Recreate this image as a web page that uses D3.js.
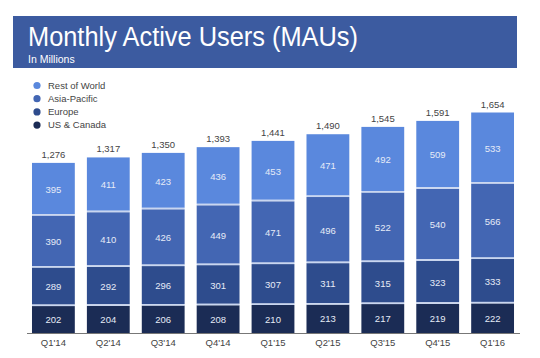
<!DOCTYPE html>
<html><head><meta charset="utf-8">
<script src="https://cdn.jsdelivr.net/npm/d3@7"></script>
<style>body{margin:0;background:#fff;} svg{display:block;font-family:"Liberation Sans",Arial,sans-serif;}</style>
</head><body>
<script>
const categories = ["Q1'14","Q2'14","Q3'14","Q4'14","Q1'15","Q2'15","Q3'15","Q4'15","Q1'16"];
const usCanada   = [202,204,206,208,210,213,217,219,222];
const europe     = [289,292,296,301,307,311,315,323,333];
const asiaPacific= [390,410,426,449,471,496,522,540,566];
const restOfWorld= [395,411,423,436,453,471,492,509,533];
const totals     = [1276,1317,1350,1393,1441,1490,1545,1591,1654];
const seriesNames = ["US & Canada","Europe","Asia-Pacific","Rest of World"];
const colors = ["#1b2c55","#2e4c8d","#4366b3","#5a88dd"];

const W=540,H=358;
const svg=d3.select("body").append("svg").attr("width",W).attr("height",H);

// banner
svg.append("rect").attr("x",13).attr("y",16).attr("width",504).attr("height",52).attr("fill","#3c5ba0");
svg.append("text").attr("x",28).attr("y",46).attr("fill","#fff").attr("font-size",27.5)
  .attr("textLength",330).attr("lengthAdjust","spacingAndGlyphs").text("Monthly Active Users (MAUs)");
svg.append("text").attr("x",28).attr("y",63).attr("fill","#fff").attr("font-size",10.5).text("In Millions");

const data = categories.map((c,i)=>({cat:c,"US & Canada":usCanada[i],"Europe":europe[i],"Asia-Pacific":asiaPacific[i],"Rest of World":restOfWorld[i],total:totals[i]}));
const stack=d3.stack().keys(seriesNames)(data);

const x=d3.scaleBand().domain(categories).range([26.5,519.5]).paddingInner(0.22).paddingOuter(0.1);
const y=d3.scaleLinear().domain([0,1654]).range([333,112.5]);

const g=svg.append("g");
stack.forEach((s,si)=>{
  g.selectAll(null).data(s).enter().append("rect")
    .attr("x",d=>x(d.data.cat)).attr("width",x.bandwidth())
    .attr("y",d=>y(d[1])).attr("height",d=>y(d[0])-y(d[1])-(si>0?1.5:0))
    .attr("fill",colors[si]);
  g.selectAll(null).data(s).enter().append("text")
    .attr("x",d=>x(d.data.cat)+x.bandwidth()/2).attr("y",d=>(y(d[0])+y(d[1]))/2+3.5)
    .attr("text-anchor","middle").attr("font-size",9.5).attr("fill","#e6ebf7")
    .text(d=>d[1]-d[0]);
});
// separators
stack.slice(0,3).forEach(s=>{
  g.selectAll(null).data(s).enter().append("rect")
   .attr("x",d=>x(d.data.cat)).attr("width",x.bandwidth())
   .attr("y",d=>y(d[1])-1.5).attr("height",1.5).attr("fill","#c9d6f0");
});
// totals
g.selectAll(null).data(data).enter().append("text")
  .attr("x",d=>x(d.cat)+x.bandwidth()/2).attr("y",d=>y(d.total)-5)
  .attr("text-anchor","middle").attr("font-size",9.5).attr("fill","#444").text(d=>d3.format(",")(d.total));
// axis
const xAxis=svg.append("g").attr("transform","translate(0,333)").call(d3.axisBottom(x).tickSize(0).tickPadding(6));
xAxis.select(".domain").attr("stroke","#777").attr("stroke-width",1.2);
xAxis.selectAll("text").attr("font-size",9.5).attr("fill","#444").attr("font-family","Liberation Sans, Arial, sans-serif");

// legend
const leg=svg.append("g");
const legOrder=["Rest of World","Asia-Pacific","Europe","US & Canada"];
legOrder.forEach((n,i)=>{
  const cy=85.5+i*13.2;
  leg.append("circle").attr("cx",37).attr("cy",cy).attr("r",3.6).attr("fill",colors[seriesNames.indexOf(n)]);
  leg.append("text").attr("x",48).attr("y",cy+3.3).attr("font-size",9.5).attr("fill","#444").text(n);
});
</script>
</body></html>
